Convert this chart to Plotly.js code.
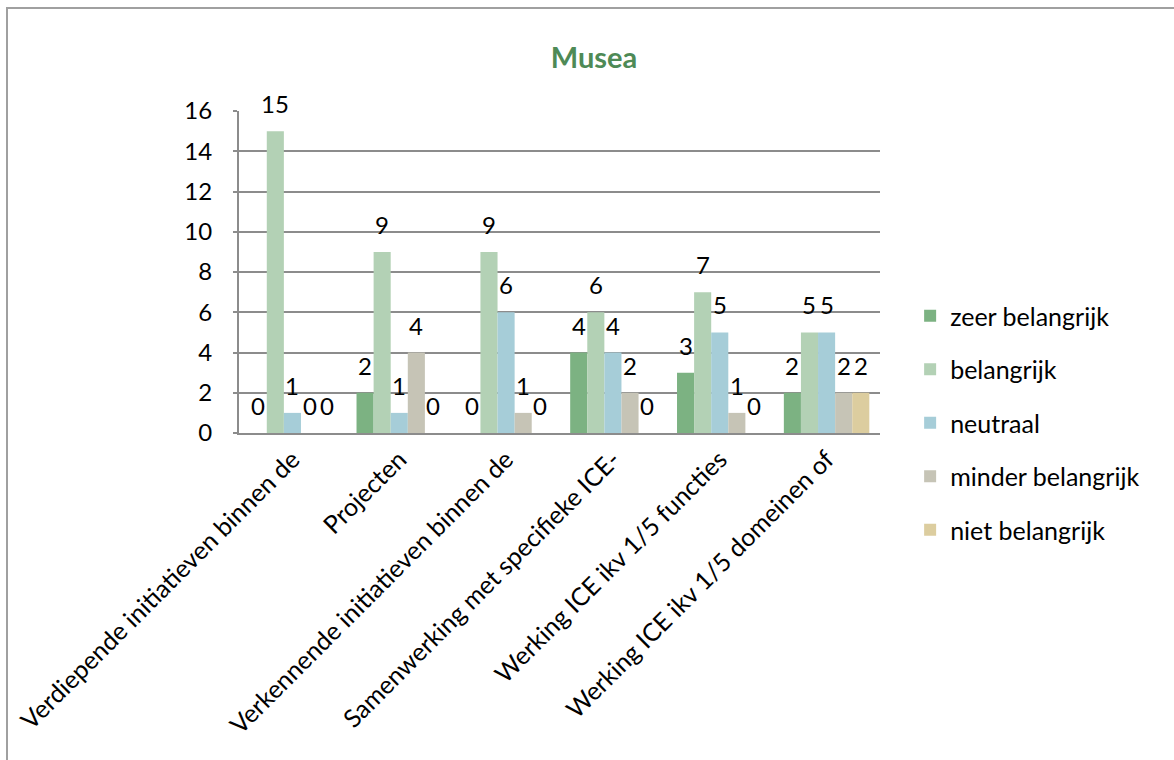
<!DOCTYPE html>
<html>
<head>
<meta charset="utf-8">
<script src="https://cdn.plot.ly/plotly-3.0.1.min.js"></script>
<style>
  html, body { margin: 0; padding: 0; background: #fff; }
  #frame { position: absolute; left: 6px; top: 7px; width: 1200px; height: 800px;
           border-left: 2px solid #a0a0a0; border-top: 2px solid #a0a0a0; pointer-events: none; }
  #chart { position: absolute; left: 0; top: 0; width: 1174px; height: 760px; }
</style>
</head>
<body>
<div id="chart"></div>
<div id="frame"></div>
<script>
const categories = [
  "Verdiepende initiatieven binnen de",
  "Projecten",
  "Verkennende initiatieven binnen de",
  "Samenwerking met specifieke ICE-",
  "Werking ICE ikv 1/5 functies",
  "Werking ICE ikv 1/5 domeinen of"
];
const seriesNames = ["zeer belangrijk", "belangrijk", "neutraal", "minder belangrijk", "niet belangrijk"];
const zeerBelangrijk   = [0, 2, 0, 4, 3, 2];
const belangrijk       = [15, 9, 9, 6, 7, 5];
const neutraal         = [1, 1, 6, 4, 5, 5];
const minderBelangrijk = [0, 4, 1, 2, 1, 2];
const nietBelangrijk   = [0, 0, 0, 0, 0, 2];
const seriesValues = [zeerBelangrijk, belangrijk, neutraal, minderBelangrijk, nietBelangrijk];
const seriesColors = ["#7cb282", "#b3d1b5", "#a6cdd8", "#c6c4b6", "#dccd9f"];

const FONT = "Lato, 'Open Sans', 'Liberation Sans', sans-serif";
const FS = 24;
const FS_AX = 25;

const W = 1174, H = 760;
const margin = { l: 239, r: 294, t: 111, b: 327 };
const BARGAP = 0.2;
const nSeries = seriesNames.length;
const catPx = (W - margin.l - margin.r) / categories.length;
const barPx = catPx * (1 - BARGAP) / nSeries;

const traces = seriesNames.map((name, i) => ({
  type: "bar",
  name: name,
  x: categories,
  y: seriesValues[i],
  marker: { color: seriesColors[i], line: { width: 0 } },
  legendgroup: "g" + i
}));

// value labels placed above each bar (Excel-style offset)
const annotations = [];
seriesValues.forEach((vals, i) => {
  vals.forEach((v, j) => {
    annotations.push({
      x: categories[j], y: v, xref: "x", yref: "y",
      text: String(v), showarrow: false,
      xanchor: "center", yanchor: "bottom",
      xshift: (i - (nSeries - 1) / 2) * barPx,
      yshift: 11,
      font: { family: FONT, size: FS, color: "#000" }
    });
  });
});

const layout = {
  width: W, height: H,
  paper_bgcolor: "#fff", plot_bgcolor: "#fff",
  margin: margin,
  barmode: "group",
  bargap: BARGAP,
  bargroupgap: 0,
  title: { text: "<b>Musea</b>", x: 0.506, xanchor: "center", y: 0.924, yanchor: "middle",
           font: { family: FONT, size: 29, color: "#4e8a56" } },
  xaxis: {
    type: "category",
    tickangle: -45,
    tickfont: { family: FONT, size: FS_AX, color: "#000" },
    showline: true, linecolor: "#8c8c8c", linewidth: 2,
    ticks: "", showgrid: false
  },
  yaxis: {
    range: [0, 16], dtick: 2,
    tickfont: { family: FONT, size: FS, color: "#000" },
    showgrid: true, gridcolor: "#8c8c8c", gridwidth: 2,
    showline: true, linecolor: "#8c8c8c", linewidth: 2,
    ticks: "outside", ticklen: 4, tickcolor: "#8c8c8c", tickwidth: 2,
    ticklabelstandoff: 16,
    zeroline: false
  },
  legend: {
    x: 1.047, xanchor: "left", y: 0.031, yanchor: "middle",
    font: { family: FONT, size: FS_AX, color: "#000" },
    tracegroupgap: 18,
    itemwidth: 30,
    bgcolor: "rgba(0,0,0,0)"
  },
  annotations: annotations,
  showlegend: true
};

Plotly.newPlot("chart", traces, layout, { displayModeBar: false, staticPlot: true });
</script>
</body>
</html>
